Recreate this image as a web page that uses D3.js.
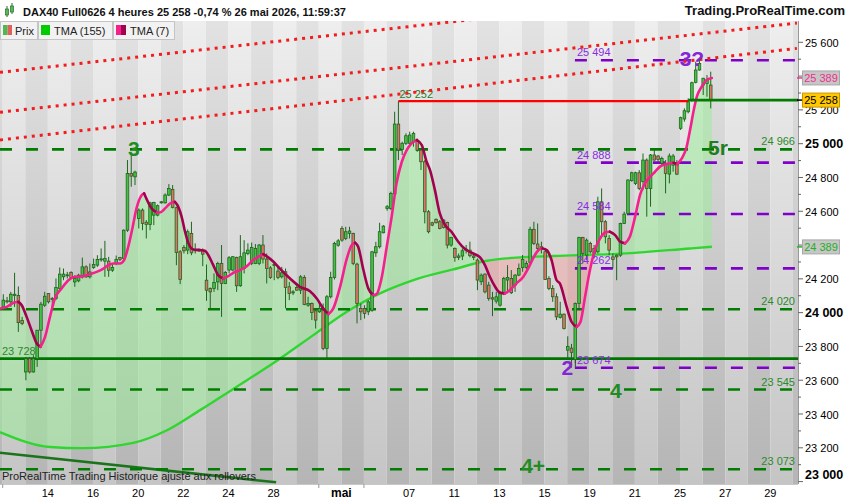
<!DOCTYPE html>
<html><head><meta charset="utf-8">
<script src="https://cdn.jsdelivr.net/npm/d3@7"></script>
<style>
html,body{margin:0;padding:0;background:#fff;}
svg{display:block;font-family:"Liberation Sans",Arial,sans-serif;}
</style></head><body>
<svg id="c" width="850" height="500"></svg>
<script>
// ---------------- DATA ----------------
const titleText = "DAX40 Full0626 4 heures 25 258 -0,74 % 26 mai 2026, 11:59:37";
const siteText = "Trading.ProRealTime.com";
const footerText = "ProRealTime Trading  Historique ajusté aux rollovers";
const legendNames = ["Prix", "TMA (155)", "TMA (7)"];

// 4-hour bars, 6 per trading day, from 10 April to 26 May 2026
const opens = [24034,24070,24064,24101,24101,23953,23649,23728,23649,23728,23896,24044,24113,24084,24084,24143,24212,24222,24238,24182,24188,24212,24271,24212,24267,24281,24315,24305,24305,24251,24291,24326,24320,24488,24824,24804,24557,24607,24535,24522,24577,24577,24652,24650,24696,24729,24621,24360,24386,24370,24469,24374,24370,24366,24192,24143,24143,24182,24291,24173,24252,24252,24327,24159,24261,24350,24291,24291,24291,24400,24317,24265,24285,24246,24212,24242,24153,24123,24149,24133,24208,24044,24054,24011,24005,24015,23788,24094,24208,24399,24498,24439,24469,24469,24287,24025,24025,24005,24015,24354,24390,24473,24617,24617,24702,25116,24966,25002,25002,25012,25021,24962,24893,24597,24532,24552,24538,24548,24534,24400,24380,24335,24335,24370,24370,24335,24311,24183,24228,24163,24088,24068,24044,24114,24193,24202,24163,24222,24267,24267,24297,24493,24406,24390,24360,24202,24143,24094,23971,23991,23778,23790,23722,24054,24445,24340,24410,24380,24360,24656,24538,24439,24330,24340,24340,24528,24587,24781,24765,24828,24775,24903,24735,24933,24927,24884,24884,24820,24873,24887,25091,25146,25189,25258,25363,25436,25347,25357,25347];
const highs = [24109,24093,24123,24236,24155,23975,23738,23738,23748,23896,24064,24123,24113,24093,24202,24267,24261,24241,24245,24222,24230,24326,24280,24291,24320,24340,24380,24425,24330,24291,24338,24330,24492,24903,24942,24840,24617,24617,24548,24656,24656,24640,24660,24706,24761,24755,24627,24370,24400,24492,24538,24410,24380,24380,24285,24149,24232,24301,24400,24246,24335,24335,24331,24459,24429,24410,24415,24406,24406,24459,24350,24275,24301,24271,24271,24261,24182,24133,24173,24222,24222,24094,24060,24025,24054,24054,24104,24242,24419,24435,24512,24508,24508,24473,24295,24054,24044,24074,24366,24419,24532,24518,24637,24716,25189,25252,25012,25061,25071,25071,25031,24972,24903,24607,24538,24558,24548,24552,24538,24449,24386,24350,24380,24400,24420,24350,24321,24232,24232,24183,24123,24123,24129,24212,24281,24252,24228,24291,24341,24307,24508,24538,24528,24420,24370,24216,24163,24114,24064,23995,23860,23815,24060,24449,24449,24439,24420,24400,24686,24735,24548,24459,24350,24345,24532,24597,24789,24834,24834,24844,24942,24913,24939,24966,24933,24923,24903,24942,24939,24903,25160,25209,25268,25367,25485,25495,25390,25406,25426];
const lows = [24030,24054,24034,24034,23886,23926,23600,23640,23645,23679,23797,24034,24054,24034,24074,24137,24192,24202,24200,24153,24180,24202,24205,24202,24259,24271,24301,24212,24212,24241,24281,24305,24311,24478,24745,24755,24498,24488,24439,24488,24518,24570,24645,24645,24690,24617,24281,24169,24350,24346,24340,24350,24360,24275,24070,24025,24123,24133,23975,24169,24232,24245,24123,24153,24232,24340,24281,24287,24281,24291,24173,24200,24192,24198,24202,24025,24074,24104,24130,24110,24044,24035,23956,23906,23999,23778,23729,24084,24196,24390,24419,24429,24439,24281,23936,23956,23965,23985,24005,24330,24380,24469,24603,24607,24696,24903,24933,24992,24992,24982,24952,24844,24528,24469,24512,24528,24493,24498,24380,24390,24301,24311,24311,24350,24327,24311,24133,24163,24114,24070,23979,24054,24035,24104,24114,24110,24123,24216,24242,24256,24291,24400,24360,24350,24193,24133,24064,23956,23965,23900,23729,23674,23700,24015,24291,24311,24350,24320,24350,24449,24410,24340,24261,24192,24330,24524,24577,24775,24755,24725,24725,24568,24627,24899,24893,24873,24706,24765,24834,24814,25081,25130,25179,25248,25357,25432,25288,25278,25209];
const closes = [24074,24068,24109,24109,23941,23936,23728,23649,23728,23896,24050,24097,24064,24080,24149,24228,24228,24224,24208,24202,24222,24271,24212,24241,24285,24315,24318,24320,24251,24267,24315,24315,24488,24824,24808,24832,24607,24528,24522,24650,24652,24633,24656,24696,24735,24623,24356,24196,24366,24479,24354,24366,24372,24346,24133,24123,24179,24291,24173,24238,24325,24331,24159,24331,24354,24370,24386,24380,24400,24317,24261,24208,24281,24208,24236,24149,24113,24120,24133,24212,24048,24054,24001,23956,24025,23788,24094,24208,24410,24425,24429,24479,24483,24291,24054,24005,23995,24064,24360,24390,24479,24512,24627,24706,25116,24962,25002,25047,25051,25061,24962,24893,24597,24479,24518,24532,24498,24504,24400,24445,24327,24327,24366,24376,24337,24327,24193,24222,24123,24084,24080,24094,24114,24202,24208,24118,24222,24262,24315,24291,24493,24410,24380,24380,24196,24143,24094,23975,23991,23906,23800,23765,24054,24445,24350,24429,24360,24350,24656,24538,24449,24370,24314,24330,24528,24583,24785,24828,24828,24735,24903,24735,24933,24903,24907,24913,24824,24927,24927,24820,25154,25195,25248,25361,25436,25475,25387,25377,25258];

// TMA(7): bar position / value
const tma7Idx = [-0.9,0.9,2.7,4.0,4.9,6.2,7.5,8.9,9.9,11.1,12.4,13.7,15.5,17.3,19.1,21.3,23.0,24.8,26.6,27.9,29.2,31.0,32.1,33.2,34.3,35.4,36.8,37.4,39.4,40.8,41.6,43.0,44.3,45.6,46.5,47.4,48.3,49.2,50.5,52.3,53.6,54.5,55.8,57.1,58.5,59.8,61.1,62.9,64.7,66.4,67.8,69.1,70.4,71.8,73.5,76.2,78.8,81.5,83.3,85.0,86.4,87.7,89.5,91.3,92.6,93.5,94.3,95.7,97.0,98.3,99.2,100.6,101.9,103.2,104.5,105.9,107.2,108.5,109.9,111.2,112.5,113.4,114.7,116.0,117.4,119.1,120.9,122.7,124.9,126.7,128.0,129.3,130.7,132.0,133.3,134.6,136.4,138.2,139.5,140.8,142.2,143.3,144.4,145.7,147.0,147.9,149.7,151.0,152.4,153.4,154.6,155.9,157.2,158.6,159.9,161.2,162.6,163.9,165.2,166.5,167.9,169.2,170.5,171.9,173.2,174.5,176.3,178.1,179.1,180.3,181.6,182.5,183.4,184.3,185.6,186.9,188.3];
const tma7Val = [24024,24034,24058,24064,24044,23975,23896,23817,23797,23857,23975,24084,24143,24192,24212,24216,24228,24241,24261,24281,24291,24291,24311,24390,24498,24617,24696,24706,24617,24593,24593,24617,24646,24656,24627,24567,24479,24410,24374,24370,24366,24340,24281,24222,24202,24216,24236,24252,24275,24311,24331,24346,24327,24301,24261,24202,24153,24127,24084,24025,23991,24025,24153,24321,24400,24414,24390,24252,24143,24104,24110,24212,24390,24567,24765,24893,24962,25002,25021,24992,24893,24844,24725,24587,24518,24479,24420,24376,24350,24327,24281,24212,24153,24118,24114,24133,24173,24212,24262,24321,24370,24380,24370,24311,24193,24173,24035,23946,23916,23946,24094,24252,24370,24439,24475,24479,24459,24420,24410,24449,24568,24696,24765,24804,24834,24864,24879,24887,24879,24913,24982,25081,25189,25278,25337,25377,25389];

// TMA(155)
const tma155Idx = [-0.9,12.4,21.2,34.5,43.5,52.3,61.0,72.7,82.4,91.3,100.1,109.0,119.6,128.5,137.3,146.2,165.7,182.5,188.3];
const tma155Val = [23293,23205,23198,23229,23304,23423,23547,23715,23867,24005,24114,24193,24256,24307,24327,24335,24351,24380,24390];

// Date axis: trading-day number (0 = 10 avril) and its label
const dayTickDays = [2,4,6,8,10,12,15,18,20,22,24,26,28,30,32,34];
const dayTickLabels = ["14","16","20","22","24","28","mai","07","11","13","15","19","21","25","27","29"];
const dayMarkDays = [0,14,16];

// Price axis
const priceTicks = [23000,23200,23400,23600,23800,24000,24200,24400,24600,24800,25000,25200,25400,25600];
const priceMinor = [23100,23300,23500,23700,23900,24100,24300,24500,24700,24900,25100,25300,25500];

// Drawn objects
const greenLevels = [24966, 24020, 23545, 23073];
const greenLevelLabels = ["24 966", "24 020", "23 545", "23 073"];
const purpleLevels = [25494, 24888, 24584, 24262, 23674];
const purpleLevelLabels = ["25 494", "24 888", "24 584", "24 262", "23 674"];
const supportLevel = 23728, supportLabel = "23 728";
const resistLevel = 25252, resistLabel = "25 252";
const resistFromBar = 105, resistToBar = 182;
const purpleFromBar = 151.9;
const lastPrice = 25258, lastPriceLabel = "25 258";
const tma7Last = 25389, tma7LastLabel = "25 389";
const tma155Last = 24389, tma155LastLabel = "24 389";
// red dotted channel: [bar, price] -> [bar, price]
const channelLines = [
  [[-0.877, 25422], [210.9, 25950]],
  [[-0.877, 25186], [210.9, 25714]],
  [[-0.877, 25022], [210.9, 25564]]
];
const trendLine = [[-0.877, 23171], [72.5, 22996]];
// wave labels: text, bar, price (baseline)
const waveLabels = [
  {t:"3",  bar:34.7, p:24930, c:"#218c21"},
  {t:"5r", bar:189.9, p:24935, c:"#1d7f1d"},
  {t:"4",  bar:162.8, p:23493, c:"#218c21"},
  {t:"4+", bar:140.8, p:23049, c:"#218c21"},
  {t:"3?", bar:183.0, p:25461, c:"#8226d6"},
  {t:"2",  bar:149.9, p:23631, c:"#8226d6"}
];

// ---------------- LAYOUT ----------------
const PL = 0, PR = 798, PT = 21, PB = 484;
const BPD = 6, DAY_OFF = -0.16;
const svg = d3.select('#c');
const defs = svg.append('defs');
const x = d3.scaleLinear().domain([0, 210]).range([3.3, 3.3 + 3.763 * 210]);
const y = d3.scaleLinear().domain([23000, 25600]).range([481.6, 42.3]);
const dayX = d => x(d * BPD + DAY_OFF);

svg.append('rect').attr('width', 850).attr('height', 500).attr('fill', '#fff');

function grad(id, top, bot) {
  const g = defs.append('linearGradient').attr('id', id).attr('gradientUnits', 'userSpaceOnUse')
    .attr('x1', 0).attr('x2', 0).attr('y1', PT).attr('y2', PB);
  g.append('stop').attr('offset', 0).attr('stop-color', top);
  g.append('stop').attr('offset', 1).attr('stop-color', bot);
}
grad('gl', '#eeeeee', '#c5c5c5');
grad('gd', '#e2e2e2', '#b5b5b5');

defs.append('clipPath').attr('id', 'plot').append('rect')
  .attr('x', PL).attr('y', PT).attr('width', PR - PL).attr('height', PB - PT);

const plot = svg.append('g').attr('clip-path', 'url(#plot)');

// stripes
for (let d = -1; d <= 36; d++) {
  plot.append('rect').attr('x', dayX(d)).attr('y', PT)
    .attr('width', dayX(d + 1) - dayX(d)).attr('height', PB - PT)
    .attr('fill', (d % 2 === 0) ? 'url(#gl)' : 'url(#gd)');
}

const p7 = tma7Idx.map((b, k) => [b, tma7Val[k]]);
const p155 = tma155Idx.map((b, k) => [b, tma155Val[k]]);
const cv = d3.curveMonotoneX;

// fill between TMA(7) and TMA(155)
defs.append('clipPath').attr('id', 'above155').append('path')
  .attr('d', d3.area().x(d => x(d[0])).y0(PT).y1(d => y(d[1])).curve(cv)(p155));
defs.append('clipPath').attr('id', 'above7').append('path')
  .attr('d', d3.area().x(d => x(d[0])).y0(PT).y1(d => y(d[1])).curve(cv)(p7));
plot.append('path')
  .attr('d', d3.area().x(d => x(d[0])).y0(PB).y1(d => y(d[1])).curve(cv)(p7))
  .attr('clip-path', 'url(#above155)').attr('fill', 'rgba(150,238,150,0.5)');
plot.append('path')
  .attr('d', d3.area().x(d => x(d[0])).y0(PB).y1(d => y(d[1])).curve(cv)(p155))
  .attr('clip-path', 'url(#above7)').attr('fill', 'rgba(255,140,140,0.35)');

// TMA155
plot.append('path').attr('d', d3.line().x(d => x(d[0])).y(d => y(d[1])).curve(cv)(p155))
  .attr('fill', 'none').attr('stroke', '#2fd62f').attr('stroke-width', 2.4);

// dark trend line
plot.append('path').attr('d', d3.line().x(d => x(d[0])).y(d => y(d[1]))(trendLine))
  .attr('stroke', '#1b741b').attr('stroke-width', 2.5).attr('fill', 'none');

// level lines
greenLevels.forEach((v, k) => {
  plot.append('line').attr('x1', PL).attr('x2', PR).attr('y1', y(v)).attr('y2', y(v))
    .attr('stroke', '#007d00').attr('stroke-width', 2.6).attr('stroke-dasharray', '12,14');
});
plot.append('line').attr('x1', PL).attr('x2', PR).attr('y1', y(supportLevel)).attr('y2', y(supportLevel))
  .attr('stroke', '#007400').attr('stroke-width', 2.6);
purpleLevels.forEach(v => {
  plot.append('line').attr('x1', x(purpleFromBar)).attr('x2', PR).attr('y1', y(v)).attr('y2', y(v))
    .attr('stroke', '#7f00c8').attr('stroke-width', 2.6).attr('stroke-dasharray', '12,14');
});

// candles
const cg = plot.append('g');
opens.forEach((o, i) => {
  const c = closes[i], cx = x(i);
  cg.append('line').attr('x1', cx).attr('x2', cx).attr('y1', y(highs[i])).attr('y2', y(lows[i]))
    .attr('stroke', '#1d661d').attr('stroke-width', 1);
  const top = y(Math.max(o, c)), bot = y(Math.min(o, c));
  cg.append('rect').attr('x', cx - 1.3).attr('width', 2.6).attr('y', top).attr('height', Math.max(1, bot - top))
    .attr('fill', c >= o ? '#45c245' : '#e2726a').attr('stroke', '#1d661d').attr('stroke-width', 0.8);
});

// TMA7 coloured by direction
const runs = [];
let cur = [p7[0]], dir = null;
for (let k = 1; k < p7.length; k++) {
  const dd = p7[k][1] >= p7[k - 1][1] ? 1 : -1;
  if (dir === null || dd === dir) { cur.push(p7[k]); dir = dd; }
  else { runs.push({dir, pts: cur}); cur = [p7[k - 1], p7[k]]; dir = dd; }
}
runs.push({dir, pts: cur});
runs.forEach(r => {
  plot.append('path').attr('d', d3.line().x(d => x(d[0])).y(d => y(d[1])).curve(cv)(r.pts))
    .attr('fill', 'none').attr('stroke', r.dir > 0 ? '#f5208c' : '#a3004f')
    .attr('stroke-width', 2.6).attr('stroke-linecap', 'round');
});

// resistance & last price
plot.append('line').attr('x1', x(resistFromBar)).attr('x2', x(resistToBar)).attr('y1', y(resistLevel)).attr('y2', y(resistLevel))
  .attr('stroke', '#ff0000').attr('stroke-width', 2.2);
plot.append('line').attr('x1', x(resistToBar)).attr('x2', PR).attr('y1', y(lastPrice)).attr('y2', y(lastPrice))
  .attr('stroke', '#007d00').attr('stroke-width', 2.6);

// labels of levels
const tl = plot.append('g').attr('font-size', 11);
greenLevels.forEach((v, k) => {
  tl.append('text').attr('x', 795).attr('y', y(v) - 4).attr('text-anchor', 'end')
    .attr('fill', '#2a8a2a').text(greenLevelLabels[k]);
});
tl.append('text').attr('x', 2).attr('y', y(supportLevel) - 4).attr('fill', '#2a8a2a').text(supportLabel);
purpleLevels.forEach((v, k) => {
  tl.append('text').attr('x', x(purpleFromBar) + 2).attr('y', y(v) - 4).attr('fill', '#8a2be2').text(purpleLevelLabels[k]);
});
plot.append('line').attr('x1', x(purpleFromBar) + 0.5).attr('x2', x(purpleFromBar) + 0.5)
  .attr('y1', y(purpleLevels[4]) - 8).attr('y2', y(purpleLevels[4])).attr('stroke', '#444').attr('stroke-width', 1);
tl.append('text').attr('x', x(resistFromBar) + 1).attr('y', y(resistLevel) - 3.5).attr('fill', '#2a7a2a').text(resistLabel);

// red dotted channel
channelLines.forEach(l => {
  plot.append('line').attr('x1', x(l[0][0])).attr('y1', y(l[0][1])).attr('x2', x(l[1][0])).attr('y2', y(l[1][1]))
    .attr('stroke', '#f21c1c').attr('stroke-width', 3).attr('stroke-dasharray', '3,5');
});

// wave labels
waveLabels.forEach(w => {
  plot.append('text').attr('x', x(w.bar)).attr('y', y(w.p)).attr('text-anchor', 'middle')
    .attr('font-size', 21).attr('font-weight', 'bold').attr('fill', w.c).text(w.t);
});

// footer
plot.append('text').attr('x', 2).attr('y', 480).attr('font-size', 11).attr('fill', '#222').text(footerText);

// axes frame
svg.append('line').attr('x1', PR + 0.5).attr('x2', PR + 0.5).attr('y1', PT).attr('y2', PB).attr('stroke', '#999');
svg.append('line').attr('x1', PL).attr('x2', PR).attr('y1', PB + 0.5).attr('y2', PB + 0.5).attr('stroke', '#c8c8c8');

// right axis
priceMinor.forEach(v => svg.append('line').attr('x1', PR).attr('x2', PR + 3).attr('y1', y(v)).attr('y2', y(v)).attr('stroke', '#666'));
priceTicks.forEach(v => {
  svg.append('line').attr('x1', PR).attr('x2', PR + 5).attr('y1', y(v)).attr('y2', y(v)).attr('stroke', '#666');
  const big = v % 1000 === 0;
  svg.append('text').attr('x', 805).attr('y', Math.min(y(v) + 4.5, 479))
    .attr('font-size', big ? 12.5 : 11).attr('font-weight', big ? 'bold' : 'normal').attr('fill', '#000')
    .text(d3.format(',')(v).replace(',', ' '));
});

// bottom axis
dayMarkDays.forEach(d => svg.append('line').attr('x1', dayX(d)).attr('x2', dayX(d)).attr('y1', PB).attr('y2', PB + 4).attr('stroke', '#999'));
dayTickDays.forEach((d, k) => {
  const isMonth = isNaN(+dayTickLabels[k]);
  svg.append('text').attr('x', dayX(d)).attr('y', 497).attr('text-anchor', 'middle')
    .attr('font-size', isMonth ? 12 : 11).attr('font-weight', isMonth ? 'bold' : 'normal').attr('fill', '#000')
    .text(dayTickLabels[k]);
});

// badges
function badge(v, label, bg, border, fg) {
  svg.append('line').attr('x1', PR - 1).attr('x2', PR + 4).attr('y1', y(v)).attr('y2', y(v)).attr('stroke', fg).attr('stroke-width', 1.5);
  svg.append('rect').attr('x', 802.5).attr('y', y(v) - 7).attr('width', 37).attr('height', 14)
    .attr('fill', bg).attr('stroke', border);
  svg.append('text').attr('x', 821).attr('y', y(v) + 4).attr('text-anchor', 'middle').attr('font-size', 11)
    .attr('fill', fg).text(label);
}
badge(tma7Last, tma7LastLabel, '#c6c6c6', '#a8a8a8', '#f0308e');
badge(lastPrice, lastPriceLabel, '#ffc800', '#c89600', '#000');
badge(tma155Last, tma155LastLabel, '#c6c6c6', '#a8a8a8', '#22b022');

// title
svg.append('rect').attr('x', 0).attr('y', 0).attr('width', 850).attr('height', PT).attr('fill', '#fff');
const ic = svg.append('g');
[[7, 9, 15, 6, 17], [12, 6, 12, 3, 14]].forEach(a => {
  ic.append('line').attr('x1', a[0]).attr('x2', a[0]).attr('y1', a[3]).attr('y2', a[4]).attr('stroke', '#2a6a2a');
  ic.append('rect').attr('x', a[0] - 1.5).attr('y', a[1]).attr('width', 3).attr('height', a[2] - a[1])
    .attr('fill', '#55bb55').attr('stroke', '#2a6a2a').attr('stroke-width', 0.7);
});
svg.append('text').attr('x', 23).attr('y', 16).attr('font-size', 11).attr('font-weight', 'bold').attr('fill', '#111').text(titleText);
svg.append('text').attr('x', 845).attr('y', 15).attr('text-anchor', 'end').attr('font-size', 13).attr('font-weight', 'bold').attr('fill', '#111').text(siteText);

// legend
const boxes = [[0, 37], [38, 112], [113, 174]];
const lg = svg.append('g');
boxes.forEach((b, k) => {
  lg.append('rect').attr('x', b[0] + 0.5).attr('y', 21.5).attr('width', b[1] - b[0]).attr('height', 18)
    .attr('fill', '#f2f2f2').attr('stroke', '#c4c4c4');
});
lg.append('rect').attr('x', 3).attr('y', 25).attr('width', 4.5).attr('height', 10).attr('fill', '#4cbb4c');
lg.append('rect').attr('x', 7.5).attr('y', 25).attr('width', 4.5).attr('height', 10).attr('fill', '#e06060');
lg.append('rect').attr('x', 41).attr('y', 25).attr('width', 9).attr('height', 10).attr('fill', '#00cc00');
lg.append('rect').attr('x', 116).attr('y', 25).attr('width', 5).attr('height', 10).attr('fill', '#f5208c');
lg.append('rect').attr('x', 121).attr('y', 25).attr('width', 5).attr('height', 10).attr('fill', '#a3004f');
[[15, 0], [54, 1], [130, 2]].forEach(a => {
  lg.append('text').attr('x', a[0]).attr('y', 35).attr('font-size', 11).attr('fill', '#222').text(legendNames[a[1]]);
});
</script>
</body></html>
